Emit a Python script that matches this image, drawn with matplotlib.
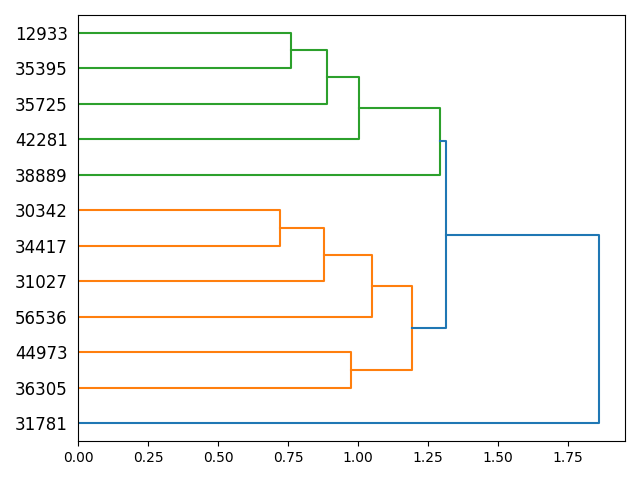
import matplotlib as mpl
mpl.use('Agg')
import matplotlib.pyplot as plt

# leaves from bottom to top
LEAVES = ["31781", "36305", "44973", "56536", "31027", "34417", "30342",
          "38889", "42281", "35725", "35395", "12933"]

# merges: (left id, right id, height); ids >= 12 refer to earlier merges
MERGE_A = [10, 6, 12, 13, 14, 1, 15, 18, 16, 20, 21]
MERGE_B = [11, 5, 9, 4, 8, 2, 3, 17, 7, 19, 0]
HEIGHTS = [0.761, 0.721, 0.889, 0.879, 1.004, 0.975, 1.05, 1.193, 1.293, 1.314, 1.861]
COLORS = ['C2', 'C1', 'C2', 'C1', 'C2', 'C1', 'C1', 'C1', 'C2', 'C0', 'C0']

n = len(LEAVES)
pos = {i: 5 + 10 * i for i in range(n)}
hgt = {i: 0.0 for i in range(n)}

fig, ax = plt.subplots(figsize=(6.4, 4.8), dpi=100)

for k in range(len(HEIGHTS)):
    a, b, h = MERGE_A[k], MERGE_B[k], HEIGHTS[k]
    ya, yb = pos[a], pos[b]
    ax.plot([hgt[a], h, h, hgt[b]], [ya, ya, yb, yb], color=COLORS[k], lw=1.5)
    pos[n + k] = (ya + yb) / 2.0
    hgt[n + k] = h

ax.set_ylim(0, 10 * n)
ax.set_xlim(0, max(HEIGHTS) * 1.05)
ax.set_yticks([5 + 10 * i for i in range(n)])
ax.set_yticklabels(LEAVES, fontsize=12)
ax.tick_params(axis='y', length=0, pad=7.5)

fig.subplots_adjust(left=0.122, right=0.977, top=0.969, bottom=0.081)
plt.savefig('out.png', dpi=100)
